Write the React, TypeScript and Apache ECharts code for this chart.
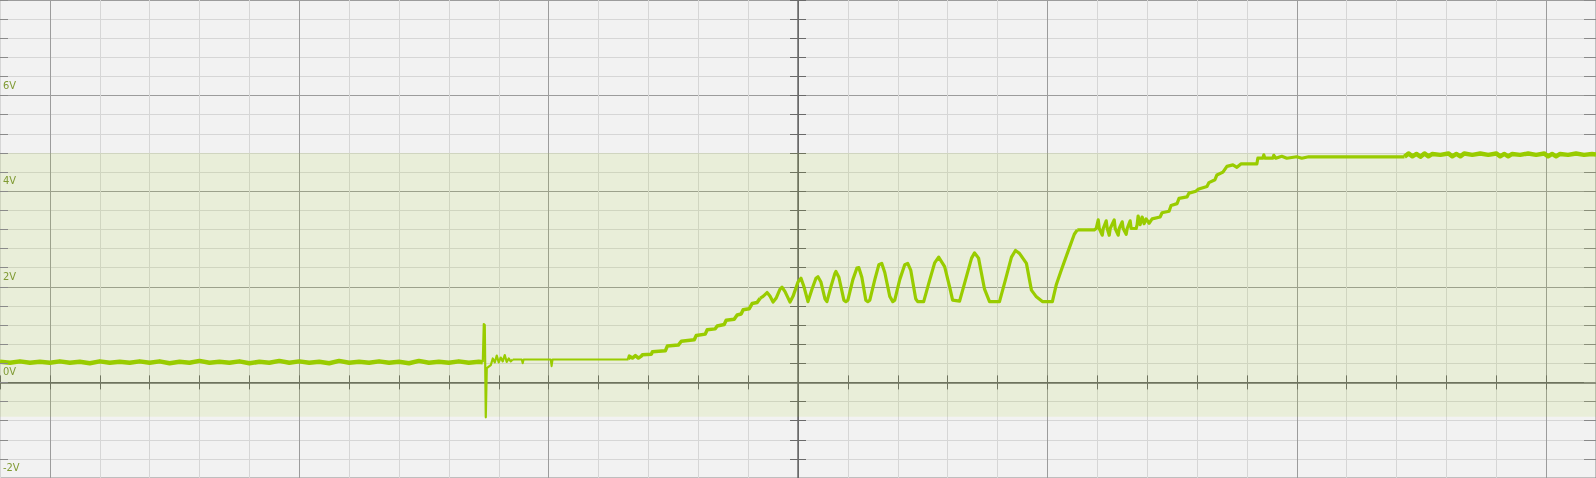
import React, { useEffect, useRef } from 'react';
import * as echarts from 'echarts';

// time in µs (50 µs per division, 0 = screen centre), voltage in V
const idleNoise: [number, number][] = [
  [-800, 0.43], [-790, 0.41], [-780, 0.44], [-770, 0.41], [-760, 0.43], [-750, 0.41], [-740, 0.44],
  [-730, 0.41], [-720, 0.43], [-710, 0.40], [-700, 0.44], [-690, 0.41], [-680, 0.43], [-670, 0.41],
  [-660, 0.44], [-650, 0.41], [-640, 0.44], [-630, 0.40], [-620, 0.43], [-610, 0.41], [-600, 0.45],
  [-590, 0.41], [-580, 0.43], [-570, 0.41], [-560, 0.44], [-550, 0.40], [-540, 0.43], [-530, 0.41],
  [-520, 0.45], [-510, 0.41], [-500, 0.44], [-490, 0.41], [-480, 0.43], [-470, 0.40], [-460, 0.45],
  [-450, 0.41], [-440, 0.43], [-430, 0.41], [-420, 0.44], [-410, 0.41], [-400, 0.43], [-390, 0.40],
  [-380, 0.45], [-370, 0.41], [-360, 0.43], [-350, 0.41], [-340, 0.44], [-330, 0.41], [-320, 0.43],
  [-316, 0.42],
];

const triggerGlitch: [number, number][] = [
  [-315, 1.22], [-314, 1.20], [-313, -0.73], [-312, 0.30], [-310, 0.33], [-308, 0.36],
  [-306, 0.50], [-304, 0.42], [-302, 0.56], [-300, 0.42], [-298, 0.52], [-296, 0.44], [-294, 0.57],
  [-292, 0.43], [-290, 0.50], [-288, 0.44], [-286, 0.48],
];

const idleFlat: [number, number][] = [
  [-285, 0.48], [-277, 0.48], [-276, 0.40], [-275, 0.48], [-248, 0.48], [-247, 0.34], [-246, 0.48],
  [-170, 0.48],
];

const stepRamp: [number, number][] = [
  [-169, 0.55], [-166, 0.51], [-163, 0.56], [-160, 0.51], [-157, 0.55], [-156, 0.58], [-147, 0.59],
  [-146, 0.64], [-133, 0.66], [-131, 0.76], [-120, 0.78], [-117, 0.86], [-104, 0.89], [-102, 0.98],
  [-93, 1.01], [-91, 1.10], [-83, 1.12], [-81, 1.18], [-74, 1.21], [-72, 1.30], [-64, 1.32],
  [-61, 1.41], [-57, 1.43], [-55, 1.52], [-49, 1.54], [-46, 1.65], [-41, 1.67], [-38, 1.76],
];

const ringing: [number, number][] = [
  [-35, 1.80], [-31, 1.88], [-28, 1.80], [-25, 1.68], [-22, 1.76], [-18, 1.95], [-16, 1.99],
  [-13, 1.90], [-8, 1.68], [-5, 1.80], [0, 2.10], [3, 2.18], [6, 2.00], [10, 1.69], [14, 1.95],
  [18, 2.18], [20, 2.21], [23, 2.10], [27, 1.75], [29, 1.69], [33, 2.00], [37, 2.28], [38, 2.32],
  [41, 2.20], [46, 1.72], [48, 1.69], [50, 1.72], [55, 2.15], [59, 2.39], [61, 2.40], [64, 2.20],
  [68, 1.72], [70, 1.69], [72, 1.72], [77, 2.15], [81, 2.46], [84, 2.49], [87, 2.30], [92, 1.80],
  [95, 1.69], [97, 1.72], [102, 2.15], [107, 2.46], [110, 2.49], [113, 2.35], [118, 1.75],
  [120, 1.69], [126, 1.69], [132, 2.14], [137, 2.50], [141, 2.62], [147, 2.42], [152, 2.00],
  [155, 1.72], [162, 1.70], [168, 2.15], [174, 2.60], [177, 2.71], [181, 2.60], [187, 1.95],
  [192, 1.69], [202, 1.69], [208, 2.15], [214, 2.62], [218, 2.76], [222, 2.70], [229, 2.49],
  [234, 1.93], [239, 1.79], [245, 1.69], [255, 1.69], [259, 2.05], [264, 2.35], [270, 2.70],
  [277, 3.10], [280, 3.19],
];

const riseAndSettle: [number, number][] = [
  [297, 3.19], [299, 3.22], [301, 3.40], [302, 3.22], [305, 3.08], [306, 3.22], [309, 3.38],
  [310, 3.22], [312, 3.08], [313, 3.22], [317, 3.40], [318, 3.22], [321, 3.08], [322, 3.22],
  [325, 3.36], [326, 3.22], [329, 3.10], [330, 3.22], [333, 3.38], [334, 3.22], [339, 3.22],
  [340, 3.30], [341, 3.48], [343, 3.30], [345, 3.46], [347, 3.32], [349, 3.42], [352, 3.33],
  [355, 3.42], [363, 3.46], [365, 3.55], [372, 3.58], [374, 3.70], [380, 3.74], [382, 3.85],
  [390, 3.88], [392, 3.96], [399, 4.00], [401, 4.04], [410, 4.10], [412, 4.18], [418, 4.24],
  [420, 4.34], [426, 4.40], [430, 4.52], [436, 4.55], [440, 4.50], [444, 4.57], [460, 4.57],
  [461, 4.69], [466, 4.69], [467, 4.76], [468, 4.69], [476, 4.69], [477, 4.75], [479, 4.69],
  [485, 4.73], [490, 4.69], [500, 4.72], [505, 4.69], [512, 4.72], [608, 4.72],
];

const finalNoise: [number, number][] = [
  [612, 4.79], [616, 4.73], [620, 4.78], [624, 4.72], [628, 4.79], [632, 4.73], [636, 4.78],
  [644, 4.76], [652, 4.79], [656, 4.73], [660, 4.78], [664, 4.73], [668, 4.79], [676, 4.76],
  [684, 4.79], [692, 4.76], [700, 4.79], [704, 4.73], [708, 4.78], [712, 4.73], [716, 4.78],
  [724, 4.76], [732, 4.79], [740, 4.76], [748, 4.79], [752, 4.73], [756, 4.78], [760, 4.73],
  [764, 4.78], [772, 4.76], [780, 4.79], [788, 4.76], [796, 4.78], [800, 4.77],
];

const timeRange = { min: -800, max: 800, step: 50 };
const voltRange = { min: -2, max: 8, step: 0.4 };
const labelledVolts = [-2, 0, 2, 4, 6];
const bandVolts: [number, number] = [-0.72, 4.8];

const TRACE = '#99cc00';
const MINOR = '#d6d6d6';
const MAJOR = '#9c9c9c';
const AXIS = '#6a6a6a';
const LABEL = '#7f9a33';

const segments: { data: [number, number][]; width: number }[] = [
  { data: idleNoise, width: 4.5 },
  { data: triggerGlitch, width: 2.2 },
  { data: idleFlat, width: 2 },
  { data: stepRamp, width: 3.5 },
  { data: ringing, width: 3.2 },
  { data: riseAndSettle, width: 3.2 },
  { data: finalNoise, width: 4.5 },
];

export default function App() {
  const ref = useRef<HTMLDivElement>(null);

  useEffect(() => {
    if (!ref.current) return;
    const chart = echarts.init(ref.current, null, { renderer: 'svg' });
    const nX = Math.round((timeRange.max - timeRange.min) / timeRange.step) + 1;
    const nY = Math.round((voltRange.max - voltRange.min) / voltRange.step) + 1;
    const xZeroIdx = Math.round((0 - timeRange.min) / timeRange.step);
    const yZeroIdx = Math.round((0 - voltRange.min) / voltRange.step);
    const xColors = Array.from({ length: nX }, (_, i) =>
      i === xZeroIdx ? AXIS : (i - xZeroIdx) % 5 === 0 ? MAJOR : MINOR);
    const yColors = Array.from({ length: nY }, (_, i) =>
      i === yZeroIdx ? AXIS : (i - yZeroIdx) % 5 === 0 ? MAJOR : MINOR);

    const xBase = {
      type: 'value' as const,
      min: timeRange.min,
      max: timeRange.max,
      interval: timeRange.step,
      axisLabel: { show: false },
    };
    const yBase = {
      type: 'value' as const,
      min: voltRange.min,
      max: voltRange.max,
      interval: voltRange.step,
    };

    const series: any[] = segments.map((seg, i) => {
      const prev = i > 0 ? segments[i - 1].data[segments[i - 1].data.length - 1] : null;
      return {
        type: 'line',
        name: 'CH1',
        xAxisIndex: 0,
        yAxisIndex: 0,
        data: prev ? [prev, ...seg.data] : seg.data,
        showSymbol: false,
        symbol: 'none',
        silent: true,
        lineStyle: { color: TRACE, width: seg.width, join: 'round', cap: 'butt' },
        itemStyle: { color: TRACE },
        z: 3,
      };
    });
    series[0].markArea = {
      silent: true,
      itemStyle: { color: 'rgba(153,204,0,0.1)' },
      data: [[{ yAxis: bandVolts[0] }, { yAxis: bandVolts[1] }]],
    };

    chart.setOption({
      animation: false,
      grid: {
        left: 0, right: 0, top: 0, bottom: 0,
        containLabel: false,
        outerBoundsMode: 'none',
        show: true,
        backgroundColor: '#f2f2f2',
        borderColor: '#8a8a8a',
        borderWidth: 1,
      },
      xAxis: [
        {
          ...xBase,
          position: 'bottom',
          axisLine: { show: true, onZero: true, onZeroAxisIndex: 0, lineStyle: { color: AXIS, width: 1.5 } },
          axisTick: { show: true, inside: true, length: 7, lineStyle: { color: AXIS } },
          splitLine: { show: true, lineStyle: { color: xColors, width: 1 } },
        },
        {
          ...xBase,
          position: 'top',
          axisLine: { show: false, onZero: true, onZeroAxisIndex: 0 },
          axisTick: { show: true, inside: true, length: 7, lineStyle: { color: AXIS } },
          splitLine: { show: false },
        },
      ],
      yAxis: [
        {
          ...yBase,
          position: 'left',
          axisLine: { show: true, onZero: true, onZeroAxisIndex: 0, lineStyle: { color: AXIS, width: 1.5 } },
          axisTick: { show: true, inside: true, length: 8, lineStyle: { color: AXIS } },
          axisLabel: { show: false },
          splitLine: { show: true, lineStyle: { color: yColors, width: 1 } },
        },
        {
          ...yBase,
          position: 'right',
          axisLine: { show: false, onZero: true, onZeroAxisIndex: 0 },
          axisTick: { show: true, inside: true, length: 8, lineStyle: { color: AXIS } },
          axisLabel: { show: false },
          splitLine: { show: false },
        },
        {
          ...yBase,
          position: 'left',
          z: 5,
          axisLine: { show: false, onZero: false },
          axisTick: { show: true, inside: true, length: 8, lineStyle: { color: '#8a8a8a' } },
          axisLabel: {
            show: true,
            inside: true,
            margin: 3,
            showMinLabel: true,
            showMaxLabel: true,
            color: LABEL,
            fontSize: 11,
            fontFamily: "'Liberation Sans Narrow', 'DejaVu Sans Condensed', sans-serif",
            verticalAlign: 'bottom',
            lineHeight: 11,
            padding: [0, 0, 5, 0],
            formatter: (v: number) => {
              const r = Math.round(v);
              return Math.abs(v - r) < 1e-6 && labelledVolts.includes(r) ? `${r}V` : '';
            },
          },
          splitLine: { show: false },
        },
        {
          ...yBase,
          position: 'right',
          axisLine: { show: false, onZero: false },
          axisTick: { show: true, inside: true, length: 12, lineStyle: { color: '#8a8a8a' } },
          axisLabel: { show: false },
          splitLine: { show: false },
        },
      ],
      series,
    });
    return () => chart.dispose();
  }, []);

  return (
    <div
      ref={ref}
      style={{ position: 'fixed', left: 0, top: 0, width: 1596, height: 478 }}
    />
  );
}
